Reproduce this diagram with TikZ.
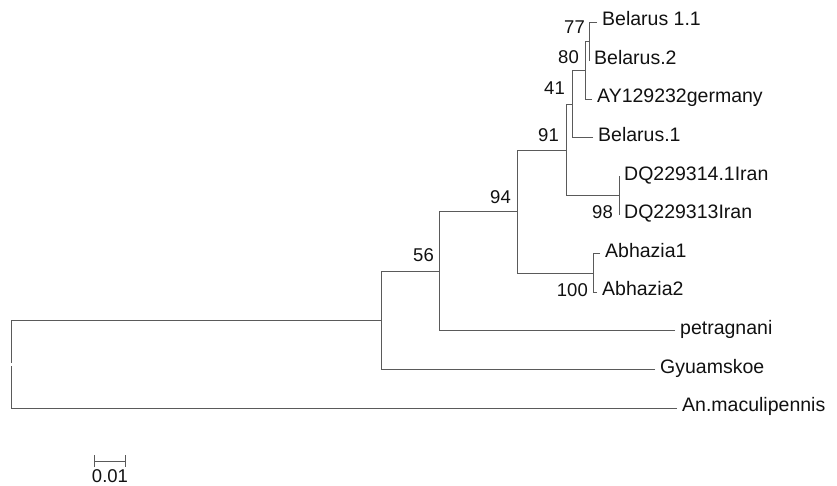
\documentclass[tikz,border=0pt]{standalone}
\usepackage{fontspec}
\setmainfont{Liberation Sans}
\usepackage{tikz}
\usetikzlibrary{arrows.meta,positioning}
\definecolor{branchgray}{HTML}{5A5A5A}
\definecolor{dark}{HTML}{111111}

\begin{document}
\begin{tikzpicture}[
    x=1pt, y=-1pt,
    taxon/.style={anchor=west, inner xsep=5pt, inner ysep=0pt, text height=0.72em, text depth=0pt, font=\fontsize{19.5}{21}\selectfont, color=dark},
    boot/.style={anchor=east, inner sep=0pt, font=\fontsize{18.5}{20}\selectfont, color=dark},
    branch/.style={draw=branchgray, line width=0.9pt}
]
    \useasboundingbox (0,0) rectangle (837,485);

    % Tips
    \node[taxon] (bel11) at (597,22)    {Belarus 1.1};
    \node[taxon] (bel2)  at (589,60.6)  {Belarus.2};
    \node[taxon] (ay)    at (592,99.2)  {AY129232germany};
    \node[taxon] (bel1)  at (593,137.8) {Belarus.1};
    \node[taxon] (dq4)   at (619,176.4) {DQ229314.1Iran};
    \node[taxon] (dq3)   at (619,215)   {DQ229313Iran};
    \node[taxon] (abh1)  at (600,253.6) {Abhazia1};
    \node[taxon] (abh2)  at (597,292.2) {Abhazia2};
    \node[taxon] (petr)  at (675,330.8) {petragnani};
    \node[taxon] (gyu)   at (655,369.4) {Gyuamskoe};
    \node[taxon] (anm)   at (677,408)   {An.maculipennis};

    % Internal nodes
    \coordinate (n77)  at (589,41.3);
    \coordinate (n80)  at (585,70.3);
    \coordinate (n41)  at (572,104);
    \coordinate (n98)  at (619,195.7);
    \coordinate (n91)  at (566,150);
    \coordinate (n100) at (593,273);
    \coordinate (n94)  at (517,211.5);
    \coordinate (n56)  at (439,271);
    \coordinate (ngy)  at (381,320);
    \coordinate (root) at (11,364);

    % Branches
    \draw[branch] (bel11.west) -| (n77);
    \draw[branch] (bel2.west) -| (n77);
    \draw[branch] (n77) -| (n80);
    \draw[branch] (ay.west) -| (n80);
    \draw[branch] (n80) -| (n41);
    \draw[branch] (bel1.west) -| (n41);
    \draw[branch] (dq4.west) -| (n98);
    \draw[branch] (dq3.west) -| (n98);
    \draw[branch] (n41) -| (n91);
    \draw[branch] (n98) -| (n91);
    \draw[branch] (abh1.west) -| (n100);
    \draw[branch] (abh2.west) -| (n100);
    \draw[branch] (n91) -| (n94);
    \draw[branch] (n100) -| (n94);
    \draw[branch] (n94) -| (n56);
    \draw[branch] (petr.west) -| (n56);
    \draw[branch] (n56) -| (ngy);
    \draw[branch] (gyu.west) -| (ngy);
    \draw[branch, shorten >=1.5pt] (ngy) -| (root);
    \draw[branch, shorten >=1.5pt] (anm.west) -| (root);

    % Bootstrap values
    \node[boot] (b77)  at (585,27)  {77};
    \node[boot] (b80)  at (579,57)  {80};
    \node[boot] (b41)  at (565,88)  {41};
    \node[boot] (b91)  at (559,135) {91};
    \node[boot] (b98)  at (613,212) {98};
    \node[boot] (b94)  at (511,197) {94};
    \node[boot] (b56)  at (434,255) {56};
    \node[boot] (b100) at (588,290) {100};

    % Scale bar
    \coordinate (sb0) at (94,461);
    \coordinate (sb1) at (126,461);
    \draw[branch, {Bar[width=12pt]}-{Bar[width=12pt]}] (sb0) -- (sb1);
    \node[boot, anchor=north] (sblabel) at (110,469) {0.01};
\end{tikzpicture}
\end{document}
